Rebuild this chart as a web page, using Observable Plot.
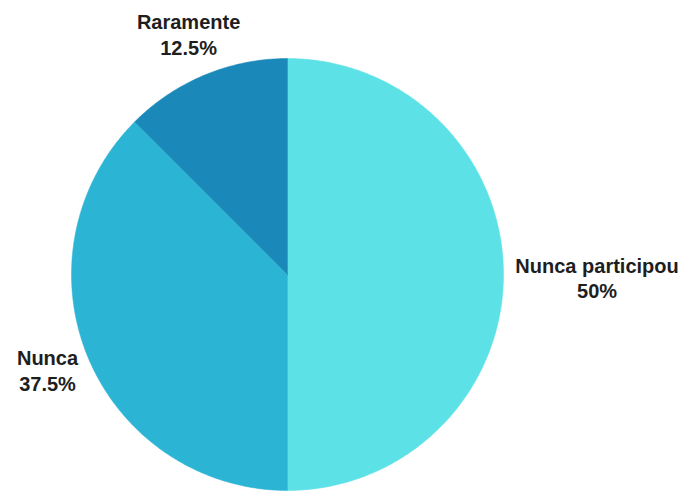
<!DOCTYPE html>
<html>
<head>
<meta charset="utf-8">
<script src="https://cdn.jsdelivr.net/npm/d3@7"></script>
<script src="https://cdn.jsdelivr.net/npm/@observablehq/plot@0.6"></script>
<style>
  html, body { margin: 0; padding: 0; background: #fff; }
  #chart svg { display: block; }
</style>
</head>
<body>
<div id="chart"></div>
<script>
// Data
const categories = ["Nunca participou", "Nunca", "Raramente"];
const percents = [50, 37.5, 12.5];
const labels = ["50%", "37.5%", "12.5%"];
const colors = ["#5ce1e6", "#2cb4d4", "#1a89b9"];

// Label layout (in unit-radius coordinates)
const labelX = [1.433, -1.111, -0.458];
const labelY = [-0.013, -0.44, 1.113];

const rows = categories.map((c, i) => ({category: c, value: percents[i], label: labels[i], color: colors[i], lx: labelX[i], ly: labelY[i]}));

// Pie angles from the data
const arcs = d3.pie().sort(null).value(d => d.value)(rows);
const poly = [];
arcs.forEach(a => {
  const n = Math.max(2, Math.ceil((a.endAngle - a.startAngle) / 0.01));
  poly.push({category: a.data.category, color: a.data.color, x: 0, y: 0});
  for (let k = 0; k <= n; k++) {
    const t = a.startAngle + (a.endAngle - a.startAngle) * k / n;
    poly.push({category: a.data.category, color: a.data.color, x: Math.sin(t), y: Math.cos(t)});
  }
  poly.push({category: a.data.category, color: a.data.color, x: 0, y: 0});
});

const chart = Plot.plot({
  width: 681,
  height: 491,
  marginLeft: 71,
  marginRight: 178,
  marginTop: 58,
  marginBottom: 1,
  x: {domain: [-1, 1], axis: null},
  y: {domain: [-1, 1], axis: null},
  style: {fontFamily: "Liberation Sans, Arial, sans-serif", background: "#fff", overflow: "visible"},
  marks: [
    Plot.line(poly, {x: "x", y: "y", z: "category", fill: "color", stroke: "color", strokeWidth: 0.5, curve: "linear"}),
    Plot.text(rows, {
      x: "lx", y: "ly",
      text: d => d.category + "\n" + d.label,
      fontSize: 20, fontWeight: "bold", fill: "#1e1e1e",
      lineHeight: 1.28, textAnchor: "middle"
    })
  ]
});
document.getElementById("chart").appendChild(chart);
</script>
</body>
</html>
